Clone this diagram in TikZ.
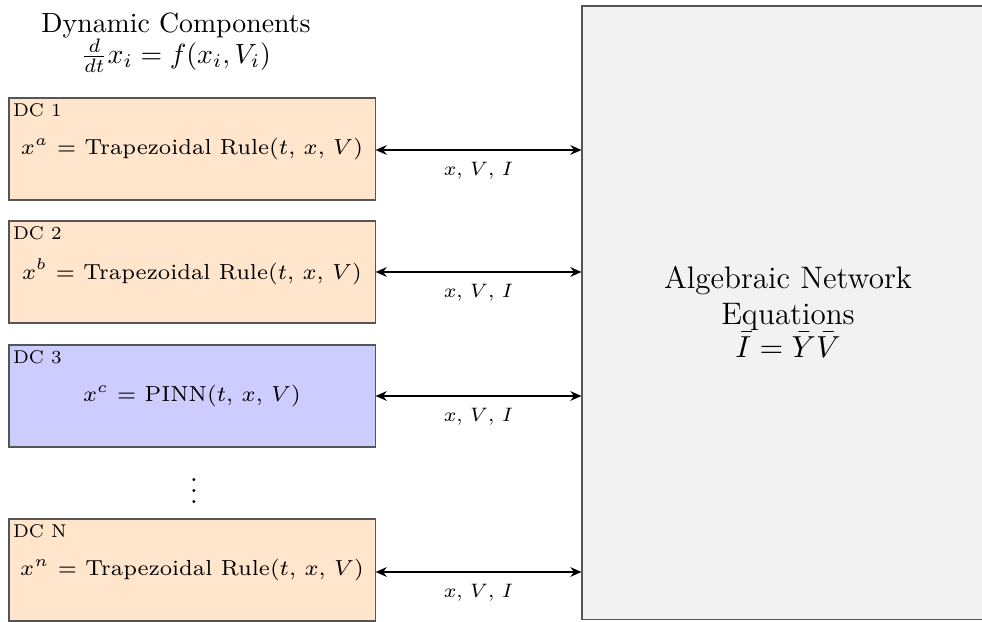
\documentclass[tikz,border=0pt]{standalone}
\usetikzlibrary{arrows.meta}
\definecolor{boxline}{HTML}{555555}
\definecolor{dcorange}{HTML}{FFE5CC}
\definecolor{dcblue}{HTML}{CCCCFF}
\definecolor{netgray}{HTML}{F2F2F2}
\newcommand{\dctext}[1]{\scalebox{1.12}{\scriptsize #1}}
\newcommand{\dctag}[1]{\scalebox{0.95}{\scriptsize #1}}
\tikzset{
  dcbox/.style={draw=boxline, line width=0.4pt, minimum width=131.8pt, minimum height=36.7pt, inner sep=0pt},
  dclabel/.style={anchor=north west, inner sep=0pt},
  link/.style={{Stealth[length=4pt,width=3.5pt]}-{Stealth[length=4pt,width=3.5pt]}, line width=0.5pt},
  linklabel/.style={font=\scriptsize, inner sep=1pt}
}
\begin{document}
\begin{tikzpicture}[x=0.36pt, y=-0.36pt]
\useasboundingbox (0,0) rectangle (982,622);
\node[draw=boxline, fill=netgray, minimum width=147.6pt, minimum height=221pt, inner sep=0pt] (net) at (787,313) {};
\node[align=center, font=\fontsize{11.2}{12.8}\selectfont] (nettext) at (788,312) {Algebraic Network\\Equations\\[-1pt] $\bar{I}=\bar{Y}\bar{V}$};
\node[align=center] (title) at (176,43) {Dynamic Components\\[-1pt] $\frac{d}{dt}x_i=f(x_i,V_i)$};

\node[dcbox, fill=dcorange] (dc1) at (192,149) {\dctext{$x^a$ = Trapezoidal Rule($t$, $x$, $V$)}};
\node[dcbox, fill=dcorange] (dc2) at (192,272) {\dctext{$x^b$ = Trapezoidal Rule($t$, $x$, $V$)}};
\node[dcbox, fill=dcblue] (dc3) at (192,396) {\dctext{$x^c$ = PINN($t$, $x$, $V$)}};
\node[dcbox, fill=dcorange] (dcn) at (192,570) {\dctext{$x^n$ = Trapezoidal Rule($t$, $x$, $V$)}};
\node (dots) at (194,483) {$\vdots$};

\node[dclabel] (l1) at ([xshift=1.5pt,yshift=-2pt]dc1.north west) {\dctag{DC 1}};
\node[dclabel] (l2) at ([xshift=1.5pt,yshift=-2pt]dc2.north west) {\dctag{DC 2}};
\node[dclabel] (l3) at ([xshift=1.5pt,yshift=-2pt]dc3.north west) {\dctag{DC 3}};
\node[dclabel] (ln) at ([xshift=1.5pt,yshift=-2pt]dcn.north west) {\dctag{DC N}};

\foreach \n/\yy in {dc1/150, dc2/272, dc3/396, dcn/572}{
  \coordinate (a\n) at (dc1.east |- 0,\yy);
  \coordinate (b\n) at (net.west |- 0,\yy);
  \draw[link] (a\n) -- (b\n) node[linklabel, midway, below=3pt] {$x$, $V$, $I$};
}
\end{tikzpicture}
\end{document}
